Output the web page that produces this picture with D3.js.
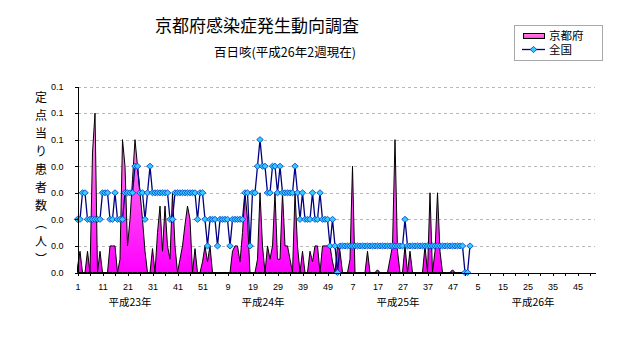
<!DOCTYPE html>
<html><head><meta charset="utf-8">
<script src="https://cdn.jsdelivr.net/npm/d3@7"></script>
<style>
body{margin:0;background:#fff}
svg{display:block}
.cjk{font-family:"Noto Sans CJK JP","Noto Sans",sans-serif}
.num{font-family:"Liberation Sans",Arial,sans-serif}
</style>
</head><body>
<svg id="c" width="632" height="348"></svg>
<script>
// ---------- data ----------
const title = "京都府感染症発生動向調査";
const subtitle = "百日咳(平成26年2週現在)";
const yTitle = "定点当り患者数（人）";
const seriesNames = ["京都府", "全国"];
const yearLabels = ["平成23年", "平成24年", "平成25年", "平成26年"];
const weeksPerYear = 52;
const yTickValues = [0, 0.01, 0.02, 0.03, 0.04, 0.05, 0.06, 0.07];
const yTickLabels = ["0.0", "0.0", "0.0", "0.0", "0.0", "0.1", "0.1", "0.1"];
const xTickLabels = ["1","11","21","31","41","51","9","19","29","39","49","7","17","27","37","47","5","15","25","35","45"];

const kyoto23 = [0.002,0.008,0,0,0.008,0,0.045,0.06,0,0.008,
                 0,0,0,0.01,0.01,0.01,0,0.005,0.05,0.04,
                 0.01,0.02,0.035,0.05,0.04,0.03,0.02,0.008,0,0,
                 0.009,0,0.015,0.025,0.008,0.025,0.01,0.005,0.03,0.01,
                 0,0.005,0.01,0.018,0.025,0.02,0,0.009,0,0,
                 0.004,0.01];
const kyoto24 = [0.004,0.01,0,0,0,0,0,0,0,0,
                 0.008,0.01,0.01,0.004,0.015,0.03,0.02,0,0,0,
                 0.005,0.03,0.01,0,0.01,0.005,0.01,0.03,0.005,0.005,
                 0.03,0.01,0.01,0.005,0,0.03,0.01,0,0.008,0,
                 0,0.008,0.004,0.01,0.01,0,0.01,0.01,0.01,0.01,
                 0.004,0];
const kyoto25 = [0.01,0.008,0,0,0,0.005,0.04,0,0,0,
                 0,0,0.008,0,0,0,0.001,0,0,0,
                 0,0.005,0.01,0.05,0.008,0,0,0.01,0,0.008,
                 0,0,0,0,0,0.01,0,0.03,0,0.008,
                 0.03,0.008,0,0,0,0,0.001,0,0,0,
                 0,0];
const kyoto26 = [0,0];

const national23 = [0.02,0.02,0.03,0.03,0.02,0.02,0.02,0.02,0.02,0.02,
                    0.03,0.03,0.03,0.02,0.02,0.03,0.02,0.02,0.02,0.03,
                    0.03,0.03,0.03,0.04,0.04,0.03,0.03,0.02,0.03,0.04,
                    0.03,0.03,0.03,0.03,0.03,0.03,0.03,0.02,0.02,0.03,
                    0.03,0.03,0.03,0.03,0.03,0.03,0.03,0.03,0.02,0.03,
                    0.03,0.02];
const national24 = [0.01,0.02,0.02,0.02,0.01,0.02,0.02,0.02,0.02,0.01,
                    0.02,0.02,0.02,0.02,0.02,0.03,0.03,0.01,0.03,0.03,
                    0.04,0.05,0.04,0.04,0.03,0.03,0.04,0.04,0.03,0.04,
                    0.03,0.03,0.03,0.03,0.03,0.04,0.03,0.02,0.03,0.02,
                    0.02,0.02,0.03,0.02,0.02,0.03,0.02,0.02,0.02,0.01,
                    0.02,0.01];
const national25 = [0,0.01,0.01,0.01,0.01,0.01,0.01,0.01,0.01,0.01,
                    0.01,0.01,0.01,0.01,0.01,0.01,0.01,0.01,0.01,0.01,
                    0.01,0.01,0.01,0.01,0.01,0.01,0.01,0.02,0.01,0.01,
                    0.01,0.01,0.01,0.01,0.01,0.01,0.01,0.01,0.01,0.01,
                    0.01,0.01,0.01,0.01,0.01,0.01,0.01,0.01,0.01,0.01,
                    0.01,0];
const national26 = [0,0.01];

// ---------- build ----------
const categories = [];
yearLabels.forEach((yl, yi) => {
  for (let w = 1; w <= weeksPerYear; w++) categories.push({year: yi, week: w, key: yi + "-" + w});
});
const kyoto = [...kyoto23, ...kyoto24, ...kyoto25, ...kyoto26];
const national = [...national23, ...national24, ...national25, ...national26];

const svg = d3.select("#c");
svg.append("rect").attr("width", 632).attr("height", 348).attr("fill", "#fff");

const x = d3.scalePoint().domain(categories.map(d => d.key)).range([77.5, 595]);
const y = d3.scaleLinear().domain([0, 0.07]).range([272.5, 86.5]);

const defs = svg.append("defs");
const g1 = defs.append("linearGradient").attr("id", "pink")
  .attr("gradientUnits", "userSpaceOnUse").attr("x1", 0).attr("y1", 272).attr("x2", 0).attr("y2", 110);
g1.append("stop").attr("offset", "0").attr("stop-color", "#ff00ff");
g1.append("stop").attr("offset", "1").attr("stop-color", "#ff9ee4");
const g2 = defs.append("linearGradient").attr("id", "pinkLeg").attr("x1", 0).attr("y1", 1).attr("x2", 0).attr("y2", 0);
g2.append("stop").attr("offset", "0").attr("stop-color", "#ff44dd");
g2.append("stop").attr("offset", "1").attr("stop-color", "#ff88e0");

// gridlines
svg.append("g").selectAll("line").data(yTickValues.filter(v => v > 0)).join("line")
  .attr("x1", 78).attr("x2", 595)
  .attr("y1", d => Math.round(y(d)) + 0.5).attr("y2", d => Math.round(y(d)) + 0.5)
  .attr("stroke", "#b8b8b8").attr("stroke-dasharray", "3,3");

// Kyoto area
const area = d3.area()
  .x((d, i) => x(categories[i].key))
  .y0(y(0)).y1(d => y(d));
svg.append("path").datum(kyoto).attr("d", area)
  .attr("fill", "url(#pink)").attr("stroke", "#000").attr("stroke-width", 1).attr("stroke-linejoin", "miter");

// National line
const line = d3.line().x((d, i) => x(categories[i].key)).y(d => y(d));
svg.append("path").datum(national).attr("d", line)
  .attr("fill", "none").attr("stroke", "#000080").attr("stroke-width", 1.3);
const diamond = "M0,-3L3.3,0L0,3L-3.3,0Z";
svg.append("g").selectAll("path").data(national).join("path")
  .attr("d", diamond)
  .attr("transform", (d, i) => `translate(${x(categories[i].key)},${y(d)})`)
  .attr("fill", "#33ccff").attr("stroke", "#0038c8").attr("stroke-width", 0.8);

// Axes
const yAxis = d3.axisLeft(y).tickValues(yTickValues).tickSize(3).tickSizeOuter(0).tickPadding(11)
  .tickFormat((d, i) => yTickLabels[i]);
const ya = svg.append("g").attr("transform", "translate(77.5,0)").call(yAxis);
ya.attr("font-family", null).attr("font-size", null);
ya.selectAll("text").attr("class", "num").attr("font-size", 9).attr("fill", "#000");
ya.selectAll("path,line").attr("stroke", "#000").attr("shape-rendering", "crispEdges");

const tickKeys = categories.filter((d, i) => i % 5 === 0).map(d => d.key);
const xAxis = d3.axisBottom(x).tickValues(tickKeys).tickSize(3).tickSizeOuter(0).tickPadding(8)
  .tickFormat(k => {
    const i = categories.findIndex(c => c.key === k);
    return i % 10 === 0 ? (xTickLabels[i / 10] || "") : "";
  });
const xa = svg.append("g").attr("transform", "translate(0,272.5)").call(xAxis);
xa.attr("font-family", null).attr("font-size", null);
xa.selectAll("text").attr("class", "num").attr("font-size", 9).attr("fill", "#000");
xa.selectAll("path,line").attr("stroke", "#000").attr("shape-rendering", "crispEdges");

// year labels
const yearLabelX = [130, 263, 398, 533];
svg.append("g").selectAll("text").data(yearLabels).join("text")
  .attr("class", "cjk").attr("x", (d, i) => yearLabelX[i]).attr("y", 306)
  .attr("text-anchor", "middle").attr("font-size", 10.5).text(d => d);

// titles
svg.append("text").attr("class", "cjk").attr("x", 257).attr("y", 31.5)
  .attr("text-anchor", "middle").attr("font-size", 17).text(title);
svg.append("text").attr("class", "cjk").attr("x", 285).attr("y", 56.5)
  .attr("text-anchor", "middle").attr("font-size", 12.5).text(subtitle);

// y title (vertical)
svg.append("text").attr("class", "cjk").attr("x", 41).attr("y", 91)
  .attr("font-size", 12).style("writing-mode", "vertical-rl").style("letter-spacing", "6px")
  .text(yTitle);

// legend
const lg = svg.append("g");
lg.append("rect").attr("x", 514.5).attr("y", 25.5).attr("width", 88).attr("height", 35)
  .attr("fill", "#fff").attr("stroke", "#a8a8a8");
lg.append("rect").attr("x", 523.5).attr("y", 33.5).attr("width", 21).attr("height", 5)
  .attr("fill", "url(#pinkLeg)").attr("stroke", "#000");
lg.append("line").attr("x1", 522).attr("x2", 545).attr("y1", 49.5).attr("y2", 49.5)
  .attr("stroke", "#000080").attr("stroke-width", 1.3);
lg.append("path").attr("d", diamond).attr("transform", "translate(533.5,49.5)")
  .attr("fill", "#33ccff").attr("stroke", "#0038c8").attr("stroke-width", 0.8);
lg.selectAll("text.l").data(seriesNames).join("text").attr("class", "cjk")
  .attr("x", 549).attr("y", (d, i) => 40 + i * 14).attr("font-size", 11.5).text(d => d);
</script>
</body></html>
